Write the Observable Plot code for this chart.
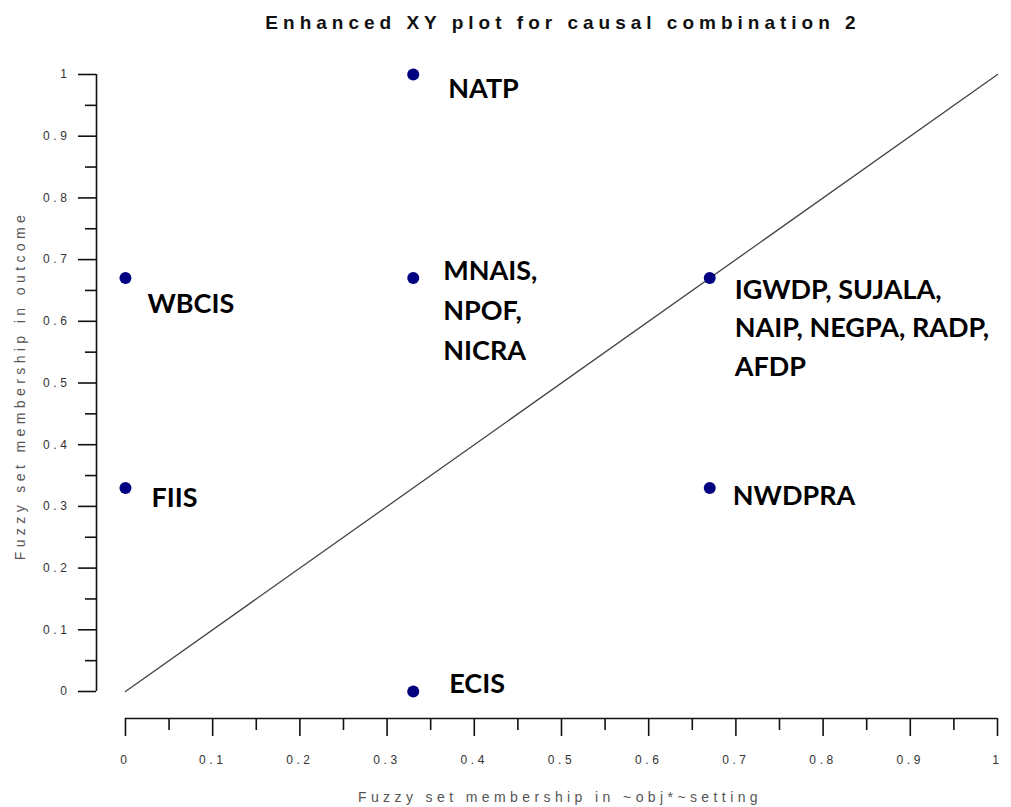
<!DOCTYPE html>
<html>
<head>
<meta charset="utf-8">
<script src="https://cdn.jsdelivr.net/npm/d3@7"></script>
<script src="https://cdn.jsdelivr.net/npm/@observablehq/plot@0.6"></script>
<style>
  html, body { margin: 0; padding: 0; background: #fff; }
  #chart svg { display: block; }
</style>
</head>
<body>
<div id="chart"></div>
<script>
// ---- data ----
const caseLabels = [
  "NATP",
  "MNAIS,\nNPOF,\nNICRA",
  "WBCIS",
  "FIIS",
  "ECIS",
  "IGWDP, SUJALA,\nNAIP, NEGPA, RADP,\nAFDP",
  "NWDPRA"
];
const xValues = [0.33, 0.33, 0, 0, 0.33, 0.67, 0.67];
const yValues = [1, 0.67, 0.67, 0.33, 0, 0.67, 0.33];
const diagonal = [0, 1];
const majorTicks = [0, 0.1, 0.2, 0.3, 0.4, 0.5, 0.6, 0.7, 0.8, 0.9, 1];
const minorTicks = [0.05, 0.15, 0.25, 0.35, 0.45, 0.55, 0.65, 0.75, 0.85, 0.95];
const tickLabels = ["0", "0.1", "0.2", "0.3", "0.4", "0.5", "0.6", "0.7", "0.8", "0.9", "1"];
const titleText = "Enhanced XY plot for causal combination 2";
const xTitle = "Fuzzy set membership in ~obj*~setting";
const yTitle = "Fuzzy set membership in outcome";

const data = xValues.map((x, i) => ({x, y: yValues[i], label: caseLabels[i], i}));

// ---- layout / style ----
const labelOffsets = [
  {dx: 35, dy: 11, lh: 1.43},
  {dx: 30, dy: 29, lh: 1.48},
  {dx: 22, dy: 23, lh: 1.4},
  {dx: 26, dy: 7, lh: 1.4},
  {dx: 36, dy: -11, lh: 1.4},
  {dx: 25, dy: 47, lh: 1.42},
  {dx: 23, dy: 5, lh: 1.4}
];
const xMin = -29 / 873;
const yMin = -27 / 617;
const fmt = d => tickLabels[majorTicks.findIndex(t => Math.abs(t - d) < 1e-9)];

const labelMarks = labelOffsets.map((o, i) =>
  Plot.text(data.filter(d => d.i === i), {
    x: "x", y: "y", text: "label",
    dx: o.dx, dy: o.dy, lineHeight: o.lh,
    textAnchor: "start", lineAnchor: "middle",
    fontFamily: "Lato", fontWeight: 700, fontSize: 27, fill: "#000"
  })
);

const chart = Plot.plot({
  width: 1011,
  height: 807,
  marginLeft: 96,
  marginRight: 14,
  marginTop: 74,
  marginBottom: 89,
  style: {fontFamily: "Liberation Sans", background: "#fff", color: "#111"},
  x: {domain: [xMin, 1]},
  y: {domain: [yMin, 1]},
  marks: [
    Plot.axisX({ticks: majorTicks, tickSize: 18, tickPadding: 19, tickFormat: fmt, fontSize: 12, label: null, strokeWidth: 1.6}),
    Plot.axisX({ticks: minorTicks, tickSize: 12, tickFormat: () => "", label: null, strokeWidth: 1.6}),
    Plot.axisY({ticks: majorTicks, tickSize: 18, tickPadding: 8, tickFormat: fmt, fontSize: 12, label: null, strokeWidth: 1.6}),
    Plot.axisY({ticks: minorTicks, tickSize: 11, tickFormat: () => "", label: null, strokeWidth: 1.6}),
    Plot.ruleY([yMin], {x1: 0, x2: 1, stroke: "#111", strokeWidth: 1.6}),
    Plot.ruleX([xMin], {y1: 0, y2: 1, stroke: "#111", strokeWidth: 1.6}),
    Plot.line(diagonal, {x: d => d, y: d => d, stroke: "#444", strokeWidth: 1.3}),
    Plot.dot(data, {x: "x", y: "y", r: 6, fill: "#000080", stroke: "none"}),
    ...labelMarks,
    Plot.text([titleText], {frameAnchor: "top", text: d => d, dx: 16, dy: -52, lineAnchor: "middle",
      fontSize: 19, fontWeight: 700, fill: "#111"}),
    Plot.text([xTitle], {frameAnchor: "bottom", text: d => d, dx: 13, dy: 79, lineAnchor: "middle",
      fontSize: 14, fill: "#555"}),
    Plot.text([yTitle], {frameAnchor: "left", text: d => d, dx: -76, dy: -11, rotate: -90,
      textAnchor: "middle", lineAnchor: "middle", fontSize: 14, fill: "#555"})
  ]
});
document.getElementById("chart").appendChild(chart);

// letter spacing (the reference uses widely tracked text)
function track(t, ls) {
  t.setAttribute("letter-spacing", ls);
  t.style.letterSpacing = ls;
}
chart.querySelectorAll("text").forEach(t => {
  const s = t.textContent;
  if (s === titleText) track(t, "5px");
  else if (s === xTitle || s === yTitle) track(t, "4.4px");
});
["x-axis tick label", "y-axis tick label"].forEach(label => {
  chart.querySelectorAll(`g[aria-label="${label}"] text`).forEach(t => {
    track(t, "3.6px");
    t.setAttribute("fill", "#333");
  });
});
</script>
</body>
</html>
